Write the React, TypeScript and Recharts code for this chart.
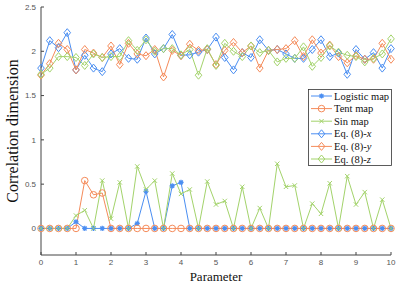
import React from 'react';
import {
    LineChart,
    Line,
    XAxis,
    YAxis,
    Customized
} from 'recharts';

const params = [
    0, 0.25, 0.5, 0.75, 1, 1.25, 1.5, 1.75, 2, 2.25,
    2.5, 2.75, 3, 3.25, 3.5, 3.75, 4, 4.25, 4.5, 4.75,
    5, 5.25, 5.5, 5.75, 6, 6.25, 6.5, 6.75, 7, 7.25,
    7.5, 7.75, 8, 8.25, 8.5, 8.75, 9, 9.25, 9.5, 9.75, 10
];

const logisticMap = [
    0, 0, 0, 0, 0.075, 0, 0, 0, 0, 0,
    0, 0.056, 0.42, 0, 0, 0.48, 0.52, 0, 0, 0,
    0, 0, 0, 0, 0, 0, 0, 0, 0, 0,
    0, 0, 0, 0, 0, 0, 0, 0, 0, 0, 0
];

const tentMap = [
    0, 0, 0, 0, 0, 0.54, 0.38, 0.40, 0, 0,
    0, 0, 0, 0, 0, 0, 0, 0, 0, 0,
    0, 0, 0, 0, 0, 0, 0, 0, 0, 0,
    0, 0, 0, 0, 0, 0, 0, 0, 0, 0, 0
];

const sinMap = [
    0, 0, 0, 0, 0.145, 0.205, 0, 0.54, 0.11, 0.52,
    0, 0.70, 0.44, 0.54, 0, 0.62, 0.39, 0.44, 0, 0.53,
    0.27, 0.31, 0, 0.47, 0, 0.23, 0, 0.73, 0.47, 0.485,
    0, 0.28, 0.165, 0.51, 0, 0.59, 0.27, 0.41, 0, 0.325, 0
];

const eqX = [
    1.81, 2.12, 2.04, 2.21, 1.79, 1.955, 1.81, 1.77, 1.97, 2.03,
    1.92, 1.91, 2.15, 1.97, 2.03, 2.19, 1.955, 1.96, 1.99, 2.02,
    2.16, 1.93, 1.79, 1.985, 1.93, 2.13, 2.01, 2.02, 1.97, 1.92,
    1.92, 2.02, 2.13, 1.94, 1.98, 1.74, 2.02, 1.91, 1.985, 1.81, 2.03
];

const eqY = [
    1.73, 1.86, 2.09, 2.02, 1.79, 2.02, 1.98, 1.93, 2.06, 1.85,
    2.09, 1.97, 1.95, 2.02, 1.71, 2.01, 1.95, 2.08, 2.01, 2.02,
    1.85, 2.01, 2.10, 1.985, 2.06, 1.81, 2.01, 2.02, 2.03, 2.12,
    1.94, 2.13, 1.98, 2.07, 1.94, 1.87, 1.95, 1.91, 1.91, 2.09, 1.91
];

const eqZ = [
    1.74, 1.81, 1.94, 1.94, 1.93, 1.84, 1.97, 1.93, 1.94, 1.94,
    2.12, 2.01, 2.13, 2.0, 2.03, 2.03, 1.96, 2.02, 1.73, 2.03,
    1.84, 2.09, 2.0, 1.94, 2.06, 1.985, 2.01, 1.88, 1.92, 1.92,
    2.05, 1.83, 1.93, 2.06, 1.99, 1.955, 1.94, 1.88, 1.92, 1.97, 2.14
];

const xTicks = [0, 1, 2, 3, 4, 5, 6, 7, 8, 9, 10];
const yTicks = [0, 0.5, 1, 1.5, 2, 2.5];

const BLUE = '#4a8ef2';
const ORANGE = '#f58b5a';
const GREEN = '#a3d36b';

const data = params.map((p, i) => ({
    p,
    logistic: logisticMap[i],
    tent: tentMap[i],
    sin: sinMap[i],
    ex: eqX[i],
    ey: eqY[i],
    ez: eqZ[i]
}));

type Marker = 'star' | 'circle' | 'cross' | 'diamond';

const drawMarker = (kind: Marker, cx: number, cy: number, color: string, key?: string) => {
    if (kind === 'star') {
        const s = 2.6;
        const d = 1.9;
        return (
            <path key={key}
                d={`M${cx - s},${cy}L${cx + s},${cy}M${cx},${cy - s}L${cx},${cy + s}M${cx - d},${cy - d}L${cx + d},${cy + d}M${cx - d},${cy + d}L${cx + d},${cy - d}`}
                stroke={color} strokeWidth={1.2} fill="none" />
        );
    }
    if (kind === 'circle') {
        return <circle key={key} cx={cx} cy={cy} r={3.3} stroke={color} strokeWidth={1} fill="none" />;
    }
    if (kind === 'cross') {
        const s = 2.2;
        return (
            <path key={key}
                d={`M${cx - s},${cy - s}L${cx + s},${cy + s}M${cx - s},${cy + s}L${cx + s},${cy - s}`}
                stroke={color} strokeWidth={1} fill="none" />
        );
    }
    return (
        <path key={key}
            d={`M${cx},${cy - 4}L${cx + 3.3},${cy}L${cx},${cy + 4}L${cx - 3.3},${cy}Z`}
            stroke={color} strokeWidth={1} fill="none" />
    );
};

const dotOf = (kind: Marker, color: string) => (props: any) =>
    drawMarker(kind, props.cx, props.cy, color, `${props.dataKey}-${props.index}`);

const legendItems: { label: string; tail?: string; color: string; marker: Marker }[] = [
    { label: 'Logistic map', color: BLUE, marker: 'star' },
    { label: 'Tent map', color: ORANGE, marker: 'circle' },
    { label: 'Sin map', color: GREEN, marker: 'cross' },
    { label: 'Eq. (8)-', tail: 'x', color: BLUE, marker: 'diamond' },
    { label: 'Eq. (8)-', tail: 'y', color: ORANGE, marker: 'diamond' },
    { label: 'Eq. (8)-', tail: 'z', color: GREEN, marker: 'diamond' }
];

const LegendBox = () => (
    <g>
        <rect x={308.5} y={89.5} width={83} height={76} fill="#fff" stroke="#333" strokeWidth={0.8} />
        {legendItems.map((it, i) => {
            const y = 96 + i * 12.6;
            return (
                <g key={i}>
                    <line x1={311} y1={y} x2={332} y2={y} stroke={it.color} strokeWidth={1} />
                    {drawMarker(it.marker, 321.5, y, it.color)}
                    <text x={334} y={y + 3.6} fontSize={10.5} fontFamily="'Liberation Serif', serif" fill="#111">
                        {it.label}
                        {it.tail && <tspan fontStyle="italic">{it.tail}</tspan>}
                    </text>
                </g>
            );
        })}
    </g>
);

const AxisTitles = () => (
    <g fontFamily="'Liberation Serif', serif" fill="#111">
        <text x={14} y={131} transform="rotate(-90 14 131)" textAnchor="middle" dominantBaseline="middle" fontSize={16}>
            Correlation dimension
        </text>
        <text x={216} y={278} textAnchor="middle" dominantBaseline="middle" fontSize={13}>
            Parameter
        </text>
    </g>
);

const tickStyle = { fontSize: 8, fill: '#555', fontFamily: "'Liberation Sans', sans-serif" };

const App: React.FC = () => {
    return (
        <div style={{ width: 412, height: 289, background: '#fff' }}>
            <style>{'body{margin:0}'}</style>
            <LineChart
                width={412}
                height={289}
                data={data}
                margin={{ top: 7, right: 21, left: 0, bottom: 0 }}
            >
                <XAxis
                    dataKey="p"
                    type="number"
                    domain={[0, 10]}
                    ticks={xTicks}
                    height={34}
                    tick={tickStyle}
                    tickSize={-3}
                    tickMargin={7}
                    stroke="#444"
                    interval={0}
                />
                <YAxis
                    type="number"
                    domain={[-0.3, 2.5]}
                    ticks={yTicks}
                    width={41}
                    tick={tickStyle}
                    tickSize={-3}
                    tickMargin={8}
                    stroke="#444"
                    interval={0}
                    allowDataOverflow
                />
                <Line type="linear" dataKey="logistic" stroke={BLUE} strokeWidth={1}
                    dot={dotOf('star', BLUE)} isAnimationActive={false} />
                <Line type="linear" dataKey="tent" stroke={ORANGE} strokeWidth={1}
                    dot={dotOf('circle', ORANGE)} isAnimationActive={false} />
                <Line type="linear" dataKey="sin" stroke={GREEN} strokeWidth={1}
                    dot={dotOf('cross', GREEN)} isAnimationActive={false} />
                <Line type="linear" dataKey="ex" stroke={BLUE} strokeWidth={1}
                    dot={dotOf('diamond', BLUE)} isAnimationActive={false} />
                <Line type="linear" dataKey="ey" stroke={ORANGE} strokeWidth={1}
                    dot={dotOf('diamond', ORANGE)} isAnimationActive={false} />
                <Line type="linear" dataKey="ez" stroke={GREEN} strokeWidth={1}
                    dot={dotOf('diamond', GREEN)} isAnimationActive={false} />
                <Customized component={<AxisTitles />} />
                <Customized component={<LegendBox />} />
            </LineChart>
        </div>
    );
};

export default App;
